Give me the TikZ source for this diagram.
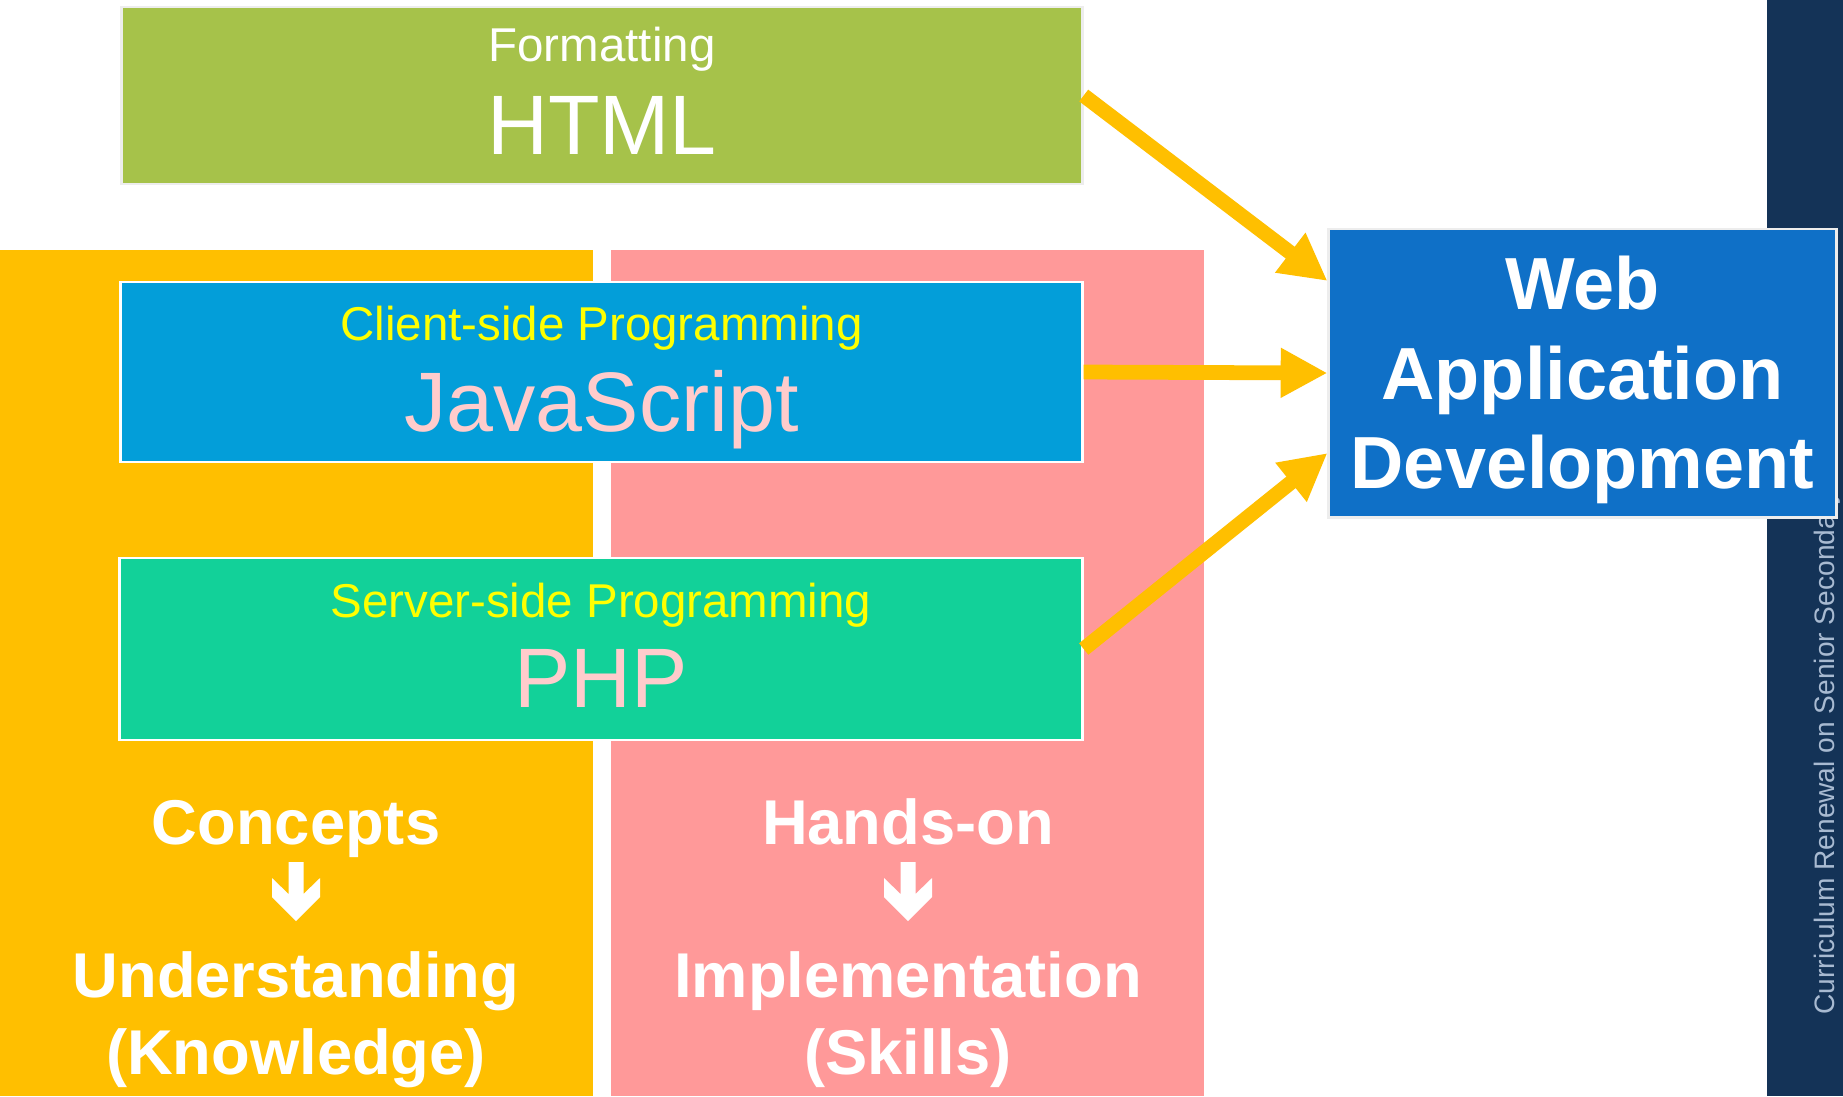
\documentclass[tikz,border=0pt]{standalone}
\usepackage{fontspec}
\setmainfont{Liberation Sans}
\usepackage{tikz}
\usetikzlibrary{arrows.meta}
\definecolor{htmlgreen}{rgb}{0.65,0.76,0.29}
\definecolor{jsblue}{rgb}{0.01,0.62,0.85}
\definecolor{phpgreen}{rgb}{0.07,0.82,0.6}
\definecolor{colorange}{rgb}{1,0.75,0}
\definecolor{colpink}{rgb}{1,0.6,0.6}
\definecolor{webblue}{rgb}{0.06,0.44,0.78}
\definecolor{stripnavy}{rgb}{0.08,0.2,0.34}
\definecolor{tagyellow}{rgb}{1,1,0}
\definecolor{langpink}{rgb}{1,0.8,0.8}
\definecolor{notegrey}{rgb}{0.66,0.73,0.82}
\definecolor{framegrey}{rgb}{0.93,0.93,0.93}

\tikzset{
  langbox/.style={draw=white, line width=0.8pt, inner sep=0pt},
  tagtext/.style={anchor=base, inner sep=0pt, text=tagyellow, font=\fontsize{13.5}{16}\selectfont},
  langtext/.style={anchor=base, inner sep=0pt, text=langpink, font=\fontsize{24}{28}\selectfont},
  coltext/.style={anchor=base, inner sep=0pt, text=white, font=\bfseries\fontsize{18}{22}\selectfont},
  webtext/.style={anchor=base, inner sep=0pt, text=white, font=\bfseries\fontsize{21}{25}\selectfont},
  feed/.style={draw=colorange, line width=4.2pt, -{Triangle[length=13.3pt,width=13.3pt]}}
}

\begin{document}
\begin{tikzpicture}[line join=miter,x=0.01cm,y=-0.01cm]
\useasboundingbox (0,0) rectangle (1843,1096);
\fill[white] (0,0) rectangle (1843,1096);
% the two columns behind the languages
\fill[colorange] (0,250) rectangle (592.5,1096);
\fill[colpink] (611,250) rectangle (1204,1096);
% side strip
\fill[stripnavy] (1767,0) rectangle (1843,1096);
\node[rotate=90, anchor=base west, inner sep=0pt, text=notegrey, font=\fontsize{8}{10}\selectfont] (series) at (1834,1015) {Curriculum Renewal on Senior Secondary Information};

% language boxes
\node[langbox, draw=framegrey, fill=htmlgreen, minimum width=9.6cm, minimum height=1.77cm] (html) at (602,95.5) {};
\node[langbox, fill=jsblue, minimum width=9.61cm, minimum height=1.8cm] (js) at (601.5,372) {};
\node[langbox, fill=phpgreen, minimum width=9.62cm, minimum height=1.82cm] (php) at (601,649) {};
\node[tagtext, text=white] (htmltag) at ([yshift=-0.56cm]html.north) {Formatting};
\node[langtext, text=white] (htmlname) at ([yshift=-1.49cm]html.north) {HTML};
\node[tagtext] (jstag) at ([yshift=-0.6cm]js.north) {Client-side Programming};
\node[langtext] (jsname) at ([yshift=-1.51cm]js.north) {JavaScript};
\node[tagtext] (phptag) at ([yshift=-0.61cm]php.north) {Server-side Programming};
\node[langtext] (phpname) at ([yshift=-1.51cm]php.north) {PHP};

% target box
\node[draw=framegrey, line width=0.8pt, fill=webblue, minimum width=5.07cm, minimum height=2.88cm] (web) at (1582.5,373) {};
\node[webtext] (webtop) at ([yshift=-0.82cm]web.north) {Web};
\node[webtext] (webmid) at ([yshift=-1.72cm]web.north) {Application};
\node[webtext] (webbot) at ([yshift=-2.61cm]web.north) {Development};

\draw[feed] (html.east) -- ([yshift=0.92cm]web.west);
\draw[feed] (js.east) -- (web.west);
\draw[feed] (php.east) -- ([yshift=-0.8cm]web.west);

% column captions
\node[coltext] (concepts) at (296,844) {Concepts};
\node[coltext] (understanding) at (296,997) {Understanding};
\node[coltext] (knowledge) at (296,1074) {(Knowledge)};
\node[coltext] (handson) at (908,844) {Hands-on};
\node[coltext] (implementation) at (908,997) {Implementation};
\node[coltext] (skills) at (908,1074) {(Skills)};
\foreach \cx in {296,908}
  \fill[white] (\cx-7.5,862) -- (\cx+7.5,862) -- (\cx+7.5,894) -- (\cx+24,878) -- (\cx+24,897)
    -- (\cx,921) -- (\cx-24,897) -- (\cx-24,878) -- (\cx-7.5,894) -- cycle;
\end{tikzpicture}
\end{document}
